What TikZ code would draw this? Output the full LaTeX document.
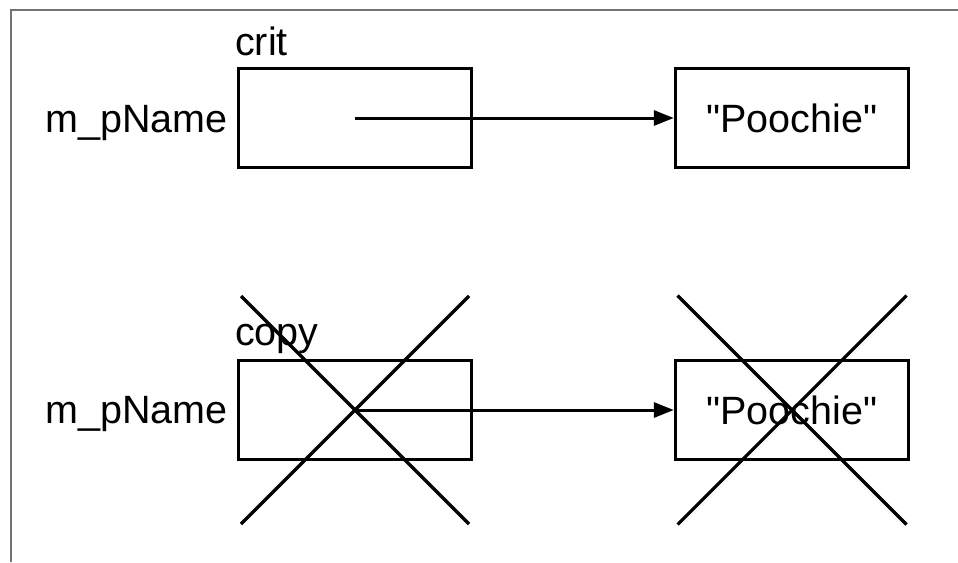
\documentclass[tikz,border=0pt]{standalone}
\usepackage{fontspec}
\setmainfont{Liberation Sans}
\newfontfamily\qfont{Liberation Sans}
\usetikzlibrary{arrows.meta}
\tikzset{
  cell/.style={draw=black, line width=3.4pt, minimum width=233pt, minimum height=99pt, inner sep=0pt, font=\fontsize{39.5}{40}\selectfont},
  lbl/.style={inner sep=0pt, font=\fontsize{39.5}{40}\selectfont},
  ptr/.style={line width=3pt, -{Triangle[length=20pt,width=15pt]}},
  xmark/.style={line width=3.2pt},
  frame/.style={draw=black!55, line width=2.4pt}
}
\begin{document}
\begin{tikzpicture}[x=1pt,y=-1pt]
\useasboundingbox (0,0) rectangle (958,562);
\draw[frame] (11,562) -- (11,10) -- (958,10);
% top row
\node[cell] (critbox) at (355,118) {};
\node[cell] (str1) at (792,118) {\qfont "Poochie"};
\node[lbl, anchor=base west] (critlbl) at (235,55) {crit};
\node[lbl, anchor=base east] (name1) at (228,132) {m\_pName};
\draw[ptr] (critbox.center) -- (str1.west);
% bottom row
\node[cell] (copybox) at (355,410) {};
\node[cell] (str2) at (792,410) {\qfont "Poochie"};
\node[lbl, anchor=base west] (copylbl) at (235,345) {copy};
\node[lbl, anchor=base east] (name2) at (228,423) {m\_pName};
\draw[ptr] (copybox.center) -- (str2.west);
% crosses
\draw[xmark] (copybox.center) +(-114,-114) -- +(114,114);
\draw[xmark] (copybox.center) +(114,-114) -- +(-114,114);
\draw[xmark] (str2.center) +(-114.5,-114.5) -- +(114.5,114.5);
\draw[xmark] (str2.center) +(114.5,-114.5) -- +(-114.5,114.5);
\end{tikzpicture}
\end{document}
